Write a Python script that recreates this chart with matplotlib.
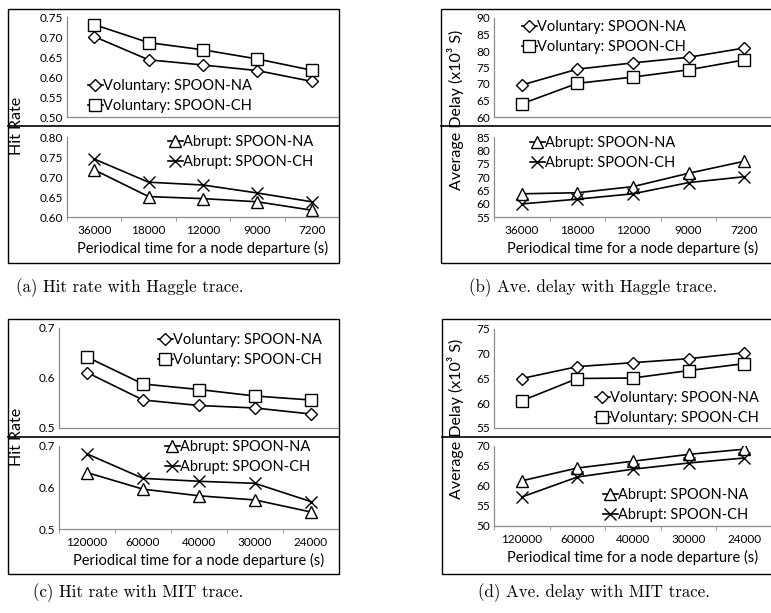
import numpy as np
import matplotlib
matplotlib.use('Agg')
import matplotlib.pyplot as plt
from matplotlib.patches import Rectangle
from matplotlib.lines import Line2D

plt.rcParams['font.family'] = ['Lato', 'DejaVu Sans']

W, H = 771, 613

# data
haggle_x = ['36000', '18000', '12000', '9000', '7200']
mit_x = ['120000', '60000', '40000', '30000', '24000']

a_vol_na = [0.701, 0.643, 0.630, 0.616, 0.589]
a_vol_ch = [0.731, 0.686, 0.668, 0.645, 0.617]
a_abr_na = [0.718, 0.651, 0.646, 0.638, 0.617]
a_abr_ch = [0.745, 0.687, 0.680, 0.660, 0.638]

b_vol_na = [69.7, 74.5, 76.4, 78.1, 80.9]
b_vol_ch = [64.0, 70.2, 72.1, 74.3, 77.3]
b_abr_na = [63.7, 64.1, 66.4, 71.4, 75.9]
b_abr_ch = [59.9, 61.7, 63.7, 67.9, 70.1]

c_vol_na = [0.611, 0.556, 0.545, 0.540, 0.528]
c_vol_ch = [0.642, 0.588, 0.577, 0.564, 0.556]
c_abr_na = [0.636, 0.596, 0.580, 0.570, 0.541]
c_abr_ch = [0.681, 0.622, 0.615, 0.610, 0.566]

d_vol_na = [65.0, 67.4, 68.2, 69.0, 70.2]
d_vol_ch = [60.5, 65.0, 65.1, 66.6, 68.0]
d_abr_na = [61.3, 64.5, 66.2, 67.9, 69.2]
d_abr_ch = [57.25, 62.25, 64.2, 65.75, 67.0]

fig = plt.figure(figsize=(W / 100, H / 100), dpi=100)


def fx(x):
    return x / W


def fy(y):
    return 1 - y / H


def px_axes(l, r, t, b):
    return fig.add_axes([fx(l), fy(b), fx(r) - fx(l), fy(t) - fy(b)])


def style(ax, xs, yt, ylim, fmt, bottom):
    ax.set_xlim(-0.5, 4.5)
    ax.set_ylim(*ylim)
    ax.set_yticks(yt)
    ax.set_yticklabels([fmt % v for v in yt])
    ax.patch.set_alpha(0)
    for s in ['top', 'right']:
        ax.spines[s].set_visible(False)
    for s in ['left', 'bottom']:
        ax.spines[s].set_color('#8c8c8c')
        ax.spines[s].set_linewidth(0.9)
    ax.tick_params(axis='y', length=0, pad=3, labelsize=8.5)
    if bottom:
        ax.set_xticks(range(5))
        ax.set_xticklabels(xs)
        ax.set_xticks(np.arange(-0.5, 5, 1), minor=True)
        ax.tick_params(axis='x', which='major', length=0, pad=6, labelsize=8.5)
        ax.tick_params(axis='x', which='minor', length=3, color='#8c8c8c')
        ax.set_xlabel('Periodical time for a node departure (s)', fontsize=10.5, labelpad=3)
    else:
        ax.set_xticks([])


def leg(ax, handles, x, y):
    ax.legend(handles=handles, loc='center left', bbox_to_anchor=(fx(x), fy(y)),
              bbox_transform=fig.transFigure, frameon=False, fontsize=10.5,
              borderpad=0, borderaxespad=0, handlelength=1.0, handletextpad=0.05,
              labelspacing=0.45)


mk = dict(color='black', lw=1.2, mfc='white', mec='black', mew=1.0)


def panel(box, up, lo, xs, vol, abr, yup, ylo, fmt, ylab, ylab_pos, leg_up, leg_lo, cap, cap_pos):
    x0, x1, y0, y1, ydiv = box
    fig.patches.append(Rectangle((fx(x0), fy(y1)), fx(x1) - fx(x0), fy(y0) - fy(y1),
                                 transform=fig.transFigure, fill=False, ec='black', lw=1.0))
    fig.lines.append(Line2D([fx(x0), fx(x1)], [fy(ydiv), fy(ydiv)],
                            transform=fig.transFigure, color='black', lw=1.2))
    ax1 = px_axes(*up)
    ax2 = px_axes(*lo)
    x = np.arange(5)
    h1, = ax1.plot(x, vol[0], marker='D', ms=6, label='Voluntary: SPOON-NA', **mk)
    h2, = ax1.plot(x, vol[1], marker='s', ms=9, label='Voluntary: SPOON-CH', **mk)
    h3, = ax2.plot(x, abr[0], marker='^', ms=8, label='Abrupt: SPOON-NA', **mk)
    h4, = ax2.plot(x, abr[1], marker='x', ms=8, label='Abrupt: SPOON-CH', **mk)
    style(ax1, xs, yup[1], yup[0], fmt, False)
    style(ax2, xs, ylo[1], ylo[0], fmt, True)
    leg(ax1, [h1, h2], *leg_up)
    leg(ax2, [h3, h4], *leg_lo)
    fig.text(fx(ylab_pos[0]), fy(ylab_pos[1]), ylab, rotation=90, ha='center', va='center',
             fontsize=11.5)
    fig.text(fx(cap_pos[0]), fy(cap_pos[1]), cap, ha='center', va='center',
             fontsize=12.2, family='cmr10')


panel((8, 339, 9, 263, 126), (67, 339, 17, 117), (67, 339, 137, 217), haggle_x,
      (a_vol_na, a_vol_ch), (a_abr_na, a_abr_ch),
      ((0.50, 0.75), np.arange(0.50, 0.751, 0.05)), ((0.60, 0.80), np.arange(0.60, 0.801, 0.05)),
      '%.2f', 'Hit Rate', (17, 126), (88, 96), (168, 152),
      '(a) Hit rate with Haggle trace.', (130, 288))

panel((441, 790, 9, 263, 126), (494, 772, 18, 117), (494, 772, 137, 217), haggle_x,
      (b_vol_na, b_vol_ch), (b_abr_na, b_abr_ch),
      ((60, 90), np.arange(60, 91, 5)), ((55, 85), np.arange(55, 86, 5)),
      '%d', 'Average Delay (x10³ S)', (455, 110), (522, 37), (530, 153),
      '(b) Ave. delay with Haggle trace.', (593, 288))

panel((8, 339, 319, 574, 437), (59, 339, 328, 428), (59, 339, 446, 529), mit_x,
      (c_vol_na, c_vol_ch), (c_abr_na, c_abr_ch),
      ((0.5, 0.7), [0.5, 0.6, 0.7]), ((0.5, 0.7), [0.5, 0.6, 0.7]),
      '%.1f', 'Hit Rate', (17, 437), (158, 350), (165, 457),
      '(c) Hit rate with MIT trace.', (138, 593))

panel((442, 790, 319, 574, 437), (494, 772, 329, 428), (494, 772, 446, 526), mit_x,
      (d_vol_na, d_vol_ch), (d_abr_na, d_abr_ch),
      ((55, 75), np.arange(55, 76, 5)), ((50, 70), np.arange(50, 71, 5)),
      '%d', 'Average Delay (x10³ S)', (455, 419), (595, 408), (603, 505),
      '(d) Ave. delay with MIT trace.', (594, 593))

fig.savefig('out.png', dpi=100)
